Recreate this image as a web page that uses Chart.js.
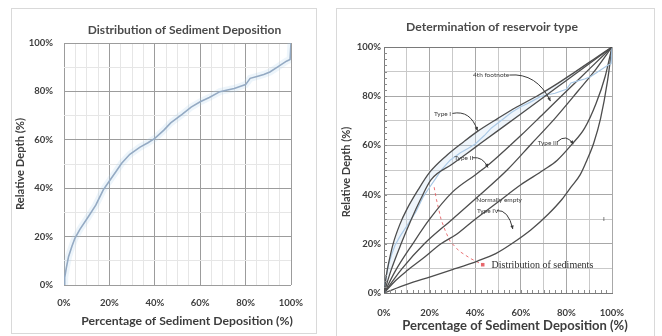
<!DOCTYPE html>
<html><head><meta charset="utf-8">
<script src="https://cdn.jsdelivr.net/npm/chart.js@4.4.1/dist/chart.umd.min.js"></script>
<style>
html,body{margin:0;padding:0;background:#fff;width:662px;height:336px;overflow:hidden}
.panel{position:absolute;border:1px solid #d9d9d9;box-sizing:border-box}
canvas{position:absolute;top:0}
</style></head><body>
<div class="panel" style="left:11px;top:8px;width:306px;height:326px"></div>
<div class="panel" style="left:336px;top:8px;width:319px;height:332px"></div>
<canvas id="c1" width="331" height="336" style="left:0"></canvas>
<canvas id="c2" width="331" height="336" style="left:331px"></canvas>
<script>
// ---- data (percent) ----
const sedX = [0,0.3,1,2,3.5,4.8,7,10.7,14,17.3,20,23,25.4,29,33.5,37,40,44,47,52,56,60,64,68.7,72,75,77.5,80,82,85,88,90.7,94,98,99.6,100];
const sedY = [0,3,7,11.7,16,19.3,23,28.2,33,39.3,43,47,50.3,54,57,58.8,60.6,64,67,70.5,73.5,75.7,77.5,79.9,80.6,81.2,82,82.8,85.4,86.2,87,88,90,92.5,93.2,100];

const type1X = [0,1,2,4,7,10,15,20,27,35,41,50,58,67,75,84,92,100];
const type1Y = [0,7,12,20,28,34,42,49,55.5,61.5,65.7,71,75.5,80,84.5,90,95,100];

const curveBX = [0,3,7.5,12,16,20.6,30,40,50,60,70,80,90,100];
const curveBY = [0,9,20,30,38,46,52.4,59.2,66,72.8,79.6,86.4,93.2,100];

const type2X = [0,5,12.6,20,30,40,45,50,60,70,80,90,100];
const type2Y = [0,9,20,30,41,48,51.5,55.5,64,73,82,91,100];

const diagX = [0,8,17.7,30,41,54,65,75,85,93,100];
const diagY = [0,10,20,30,39,50,61,71,82,91,100];

const type3X = [0,5,10,17,25,32,40,50,60,70,76,82,88,93,97,100];
const type3Y = [0,5,9,14,20,24,30,37,44,50,54,60,67,77,88,100];

const type4X = [0,10,20,30,41,49,56,64.5,72,78,82,86,89,92,95,98,100];
const type4Y = [0,3.5,6.5,9.5,13,16,20,25.7,32,38,43,48,54,61,71,86,100];

const leaderX = [22,23,25,27,29,33,38,43.3];
const leaderY = [43,38,30,25,21,17,14,11.5];

const pct = v => v + '%';
const pts = (xs, ys) => xs.map((x, i) => ({x: x, y: ys[i]}));

const TXT = '#3d3d3d';
const FONT = 'Lato, "Open Sans", sans-serif';

// plugin drawing chart title and axis titles at set places
const titlesPlugin = {
  id: 'titles',
  afterDraw(chart, args, opts) {
    const ctx = chart.ctx;
    ctx.save();
    ctx.textAlign = 'center'; ctx.textBaseline = 'middle';
    (opts.items || []).forEach(t => {
      ctx.save();
      ctx.fillStyle = t.color || TXT;
      ctx.font = 'bold ' + t.size + 'px ' + FONT;
      ctx.translate(t.x, t.y);
      if (t.rot) ctx.rotate(t.rot);
      ctx.fillText(t.text, 0, 0);
      ctx.restore();
    });
    ctx.restore();
  }
};

const tickFont = { family: FONT, size: 9.5, weight: 'bold' };

// ---------- LEFT CHART ----------
new Chart(document.getElementById('c1'), {
  type: 'scatter',
  data: { datasets: [
    { data: pts(sedX, sedY), showLine: true, borderColor: 'rgba(175,208,238,0.22)', borderWidth: 7, pointRadius: 0, tension: 0 },
    { data: pts(sedX, sedY), showLine: true, borderColor: '#8d9fb8', borderWidth: 1.6, pointRadius: 0, tension: 0 }
  ]},
  options: {
    responsive: false, animation: false,
    layout: { padding: { left: 10, right: 40, top: 43, bottom: 4 } },
    plugins: {
      legend: { display: false }, tooltip: { enabled: false }, title: { display: false },
      titles: { items: [
        { text: 'Distribution of Sediment Deposition', x: 184.5, y: 30, size: 12, color: '#4a4a4a' },
        { text: 'Percentage of Sediment Deposition (%)', x: 187, y: 321, size: 12.2 },
        { text: 'Relative Depth (%)', x: 20, y: 164, size: 11.2, rot: -Math.PI / 2 }
      ] }
    },
    scales: {
      x: { type: 'linear', min: 0, max: 100,
           afterFit: s => { s.height = 47; },
           ticks: { stepSize: 5, autoSkip: false, maxRotation: 0, padding: 12,
                    callback: v => (v % 20 === 0 ? pct(v) : ''), color: TXT, font: tickFont },
           grid: { drawTicks: false, color: c => (c.tick && c.tick.value % 20 === 0 ? '#9c9c9c' : '#e6e6e6') },
           border: { display: false } },
      y: { type: 'linear', min: 0, max: 100,
           afterFit: s => { s.width = 54; },
           ticks: { stepSize: 10, autoSkip: false, padding: 11,
                    callback: v => (v % 20 === 0 ? pct(v) : ''), color: TXT, font: tickFont },
           grid: { drawTicks: false, color: c => (c.tick && c.tick.value % 20 === 0 ? '#9c9c9c' : '#e6e6e6') },
           border: { display: false } }
    }
  },
  plugins: [titlesPlugin]
});

// ---------- RIGHT CHART ----------
const notes = [
  { text: 'Type I', x: 25.7, y: 73, arrow: [[30, 73], [38, 74.5], [41, 66]] },
  { text: 'Type II', x: 35, y: 55, arrow: [[38.8, 55], [43.5, 55.5], [45.6, 51]] },
  { text: '4th footnote', x: 47, y: 88.6, arrow: [[55, 88.6], [67, 89.5], [73, 78]] },
  { text: 'Type III', x: 72, y: 61, arrow: [[76, 61.5], [80, 65], [83, 60.5]] },
  { text: 'Normally empty', x: 50.5, y: 38, arrow: null },
  { text: 'Type IV', x: 45.5, y: 33.5, arrow: [[49.5, 33.5], [54.5, 34], [56.5, 26]] },
  { text: 'I', x: 96.5, y: 30, arrow: null }
];

const annot = {
  id: 'annot',
  afterDatasetsDraw(chart) {
    const ctx = chart.ctx, xs = chart.scales.x, ys = chart.scales.y;
    const X = v => xs.getPixelForValue(v), Y = v => ys.getPixelForValue(v);
    ctx.save();
    ctx.strokeStyle = '#8a8a8a'; ctx.lineWidth = 1;
    for (let v = 2.5; v < 100; v += 2.5) {
      ctx.beginPath();
      ctx.moveTo(X(0), Math.round(Y(v)) + 0.5); ctx.lineTo(X(0) + 3, Math.round(Y(v)) + 0.5);
      ctx.moveTo(Math.round(X(v)) + 0.5, Y(0)); ctx.lineTo(Math.round(X(v)) + 0.5, Y(0) - 3);
      ctx.stroke();
    }
    ctx.fillStyle = '#3a3a3a';
    ctx.font = '6.5px ' + FONT;
    ctx.textAlign = 'center'; ctx.textBaseline = 'middle';
    notes.forEach(n => {
      ctx.fillStyle = '#3a3a3a';
      ctx.fillText(n.text, X(n.x), Y(n.y));
      if (n.arrow) {
        const a = n.arrow;
        ctx.strokeStyle = '#3a3a3a'; ctx.lineWidth = 1;
        ctx.beginPath();
        ctx.moveTo(X(a[0][0]), Y(a[0][1]));
        ctx.quadraticCurveTo(X(a[1][0]), Y(a[1][1]), X(a[2][0]), Y(a[2][1]));
        ctx.stroke();
        const ex = X(a[2][0]), ey = Y(a[2][1]);
        const ang = Math.atan2(ey - Y(a[1][1]), ex - X(a[1][0]));
        ctx.beginPath();
        ctx.moveTo(ex, ey);
        ctx.lineTo(ex - 4 * Math.cos(ang - 0.45), ey - 4 * Math.sin(ang - 0.45));
        ctx.lineTo(ex - 4 * Math.cos(ang + 0.45), ey - 4 * Math.sin(ang + 0.45));
        ctx.closePath(); ctx.fill();
      }
    });
    ctx.textAlign = 'left';
    ctx.fillStyle = '#2e2e2e';
    ctx.font = '10px "Liberation Serif", "DejaVu Serif", serif';
    ctx.fillText('Distribution of sediments', X(47.2), Y(11.3));
    ctx.restore();
  }
};

const darkLine = (xs, ys) => ({ data: pts(xs, ys), showLine: true, borderColor: '#4d4d4d', borderWidth: 1.3, pointRadius: 0, tension: 0.3, cubicInterpolationMode: 'monotone' });

new Chart(document.getElementById('c2'), {
  type: 'scatter',
  data: { datasets: [
    darkLine(type1X, type1Y),
    Object.assign(darkLine(curveBX, curveBY), { fill: { target: 0 }, backgroundColor: 'rgba(190,215,240,0.25)' }),
    { data: pts(sedX, sedY), showLine: true, borderColor: '#a6c6e4', borderWidth: 1.2, pointRadius: 0, tension: 0 },
    darkLine(type2X, type2Y),
    darkLine(diagX, diagY),
    darkLine(type3X, type3Y),
    darkLine(type4X, type4Y),
    { data: pts(leaderX, leaderY), showLine: true, borderColor: 'rgba(230,90,95,0.85)', borderWidth: 1, borderDash: [3, 3],
      pointRadius: c => (c.dataIndex === leaderX.length - 1 ? 2.5 : 0), pointStyle: 'rect',
      pointBackgroundColor: 'rgba(230,90,95,0.9)', pointBorderWidth: 0, tension: 0 }
  ]},
  options: {
    responsive: false, animation: false,
    layout: { padding: { left: 5, right: 50, top: 47, bottom: 0 } },
    plugins: {
      legend: { display: false }, tooltip: { enabled: false }, title: { display: false },
      titles: { items: [
        { text: 'Determination of reservoir type', x: 161, y: 27, size: 12.2, color: '#4a4a4a' },
        { text: 'Percentage of Sediment Deposition (%)', x: 184, y: 326, size: 13 },
        { text: 'Relative Depth (%)', x: 15, y: 172, size: 11, rot: -Math.PI / 2 }
      ] }
    },
    scales: {
      x: { type: 'linear', min: 0, max: 100,
           afterFit: s => { s.height = 43; },
           ticks: { stepSize: 10, autoSkip: false, maxRotation: 0, padding: 14,
                    callback: v => (v % 20 === 0 ? pct(v) : ''), color: TXT, font: tickFont },
           grid: { drawTicks: false, color: c => (c.tick && c.tick.value % 20 === 0 ? '#a8a8a8' : '#c9c9c9') },
           border: { display: true, color: '#7a7a7a' } },
      y: { type: 'linear', min: 0, max: 100,
           afterFit: s => { s.width = 48; },
           ticks: { stepSize: 10, autoSkip: false, padding: 3,
                    callback: v => (v % 20 === 0 ? pct(v) : ''), color: TXT, font: tickFont },
           grid: { drawTicks: false, color: c => (c.tick && (c.tick.value === 100) ? '#7a7a7a' : (c.tick && c.tick.value % 20 === 0 ? '#a8a8a8' : '#c9c9c9')) },
           border: { display: true, color: '#7a7a7a' } }
    }
  },
  plugins: [annot, titlesPlugin]
});
</script>
</body></html>
